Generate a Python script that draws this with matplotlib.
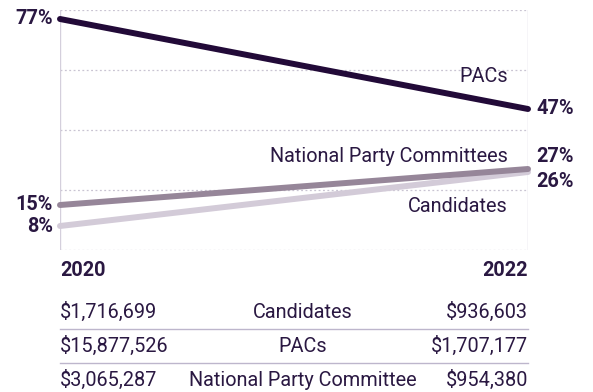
import matplotlib.pyplot as plt
from matplotlib.lines import Line2D

plt.rcParams['font.family'] = ['Roboto', 'DejaVu Sans']

# data
years = ['2020', '2022']
series = ['PACs', 'National Party Committees', 'Candidates']
vals_2020 = [77, 15, 8]
vals_2022 = [47, 27, 26]
colors = ['#220a38', '#968699', '#d3cbd8']

table_rows = ['Candidates', 'PACs', 'National Party Committee']
table_2020 = ['$1,716,699', '$15,877,526', '$3,065,287']
table_2022 = ['$936,603', '$1,707,177', '$954,380']

txt = '#2a1842'
fs = 14.3
W, H = 593, 392
fig = plt.figure(figsize=(W / 100, H / 100), dpi=100)
ax = fig.add_axes([60 / W, 1 - 250 / H, 468 / W, 240 / H])

for i, name in enumerate(series):
    ax.plot([0, 1], [vals_2020[i], vals_2022[i]], color=colors[i], lw=4.3,
            solid_capstyle='round', zorder=3 - i * 0.1, clip_on=False)

ax.set_xlim(0, 1)
ax.set_ylim(0, 80)
for y in [0, 20, 40, 60, 80]:
    ax.axhline(y, color='#c9c4d2', lw=0.9, ls=(0, (1.5, 2)), zorder=0)
for x in [0, 1]:
    ax.axvline(x, color='#d4cfdc', lw=1.0, zorder=0)
for s in ax.spines.values():
    s.set_visible(False)
ax.set_xticks([])
ax.set_yticks([])

# value labels
left_off = [0, 0, 0]
right_off = [0, 9, -7]
for i in range(3):
    ax.annotate(f'{vals_2020[i]}%', (0, vals_2020[i]), xytext=(-5, left_off[i]),
                textcoords='offset points', ha='right', va='center',
                fontsize=fs, fontweight='bold', color=txt)
    ax.annotate(f'{vals_2022[i]}%', (1, vals_2022[i]), xytext=(6, right_off[i]),
                textcoords='offset points', ha='left', va='center',
                fontsize=fs, fontweight='bold', color=txt)

# series names
name_y = [58, 31, 14.5]
for i, name in enumerate(series):
    ax.text(0.957, name_y[i], name, ha='right', va='center', fontsize=fs, color=txt)

# years
fig.text(60 / W, 1 - 270 / H, years[0], ha='left', va='center', fontsize=fs,
         fontweight='bold', color=txt)
fig.text(528 / W, 1 - 270 / H, years[1], ha='right', va='center', fontsize=fs,
         fontweight='bold', color=txt)

# table
row_y = [312, 346, 380]
for i in range(3):
    yy = 1 - row_y[i] / H
    fig.text(60 / W, yy, table_2020[i], ha='left', va='center', fontsize=fs, color=txt)
    fig.text(303 / W, yy, table_rows[i], ha='center', va='center', fontsize=fs, color=txt)
    fig.text(528 / W, yy, table_2022[i], ha='right', va='center', fontsize=fs, color=txt)
for ly in [329, 363]:
    fig.add_artist(Line2D([60 / W, 528 / W], [1 - ly / H, 1 - ly / H],
                          color='#bdb6cc', lw=1.0))

fig.savefig('out.png', dpi=100)
